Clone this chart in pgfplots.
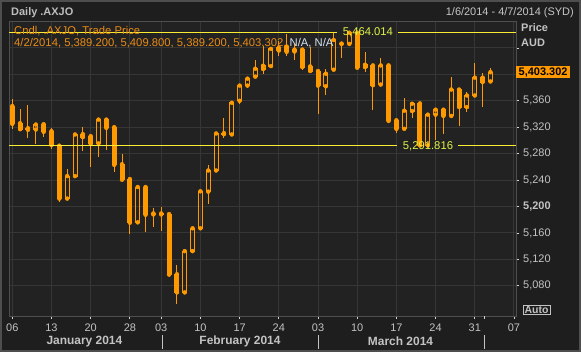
\documentclass[border=0pt]{standalone}
\usepackage{pgfplots}
\pgfplotsset{compat=1.18}
\usepackage{pgfplotstable}
\usepackage{fontspec}
\setmainfont{Liberation Sans}
\definecolor{outerbg}{RGB}{30,30,30}
\definecolor{plotbg}{RGB}{34,34,34}
\definecolor{gridc}{RGB}{54,54,54}
\definecolor{framec}{RGB}{78,78,78}
\definecolor{candle}{RGB}{255,153,0}
\definecolor{hdr}{RGB}{235,140,20}
\definecolor{lbl}{RGB}{195,195,195}
\definecolor{hiline}{RGB}{250,236,50}
\definecolor{hitext}{RGB}{225,245,70}
\definecolor{natext}{RGB}{215,228,245}

\pgfplotstableread{
i O H L C
0 5352 5362 5317 5325
1 5326 5347 5314 5317
2 5318.5 5353 5304 5316
3 5316.5 5324 5295 5324
4 5324.5 5325 5305 5313
5 5314 5318.5 5287 5293
6 5292 5292 5207 5212
7 5212 5257 5212 5246
8 5246 5309 5246 5309
9 5309.5 5320 5284 5305
10 5306.5 5308 5260 5295
11 5295.5 5332 5275 5331.5
12 5331.5 5332 5286 5319
13 5320 5321.5 5252.5 5263
14 5264 5279 5240 5240.5
15 5241.5 5241.5 5159 5175.5
16 5176 5229.5 5176 5229.5
17 5229.5 5229.5 5162 5187.5
18 5189.5 5197 5169.5 5188
19 5189.5 5199 5163.5 5188
20 5188.5 5189 5093 5097
21 5097.5 5111 5052 5070
22 5070 5132.5 5070 5132.5
23 5132.5 5169.5 5132.5 5167
24 5167 5223 5167 5223
25 5222.5 5262.5 5204 5254.5
26 5254.5 5310.5 5254.5 5310.5
27 5311 5333.5 5304 5309.5
28 5309 5357 5309 5357
29 5360 5383 5355 5383
30 5383 5396.5 5380 5393.5
31 5396.5 5421 5395 5408.5
32 5408 5443.5 5401 5413
33 5412.5 5440 5412 5438.5
34 5440 5450 5428 5436
35 5442 5461 5427 5434
36 5434.5 5446 5421 5437.5
37 5437.5 5438 5406 5411
38 5412 5442 5402 5405
39 5405 5405 5339.5 5383
40 5382 5408.5 5368 5401
41 5407 5462 5407 5452
42 5446.5 5447 5424 5446
43 5446 5463.5 5446 5463
44 5463 5464.014 5409.5 5410
45 5411 5434.5 5403.5 5414.5
46 5413.5 5414 5345.5 5383.5
47 5384.5 5425 5384.5 5413.5
48 5413.5 5413.5 5329 5329.5
49 5330.5 5332 5311.5 5317.5
50 5317.5 5363.5 5317.5 5345
51 5344.5 5358 5334 5355.5
52 5356 5356 5291.816 5292.5
53 5292.5 5339 5292.5 5339
54 5339 5347 5300 5346.5
55 5346.5 5347 5309.5 5337
56 5337 5395.5 5337 5377
57 5377 5377 5322 5350.5
58 5350.5 5373 5343 5368
59 5368 5416.5 5368 5395
60 5395 5401.5 5350.5 5388.3
61 5389.2 5409.8 5389.2 5403.302
}\candles

\pgfplotsset{candleaxis/.style={at={(9bp,36bp)}, anchor=south west,
  scale only axis, width=507bp, height=294bp,
  xmin=-0.42, xmax=64.26, ymin=5034.3, ymax=5479.2}}

\begin{document}
\begin{tikzpicture}[x=1bp,y=1bp]
\useasboundingbox (0,0) rectangle (581,352);
\fill[outerbg] (0,0) rectangle (581,352);
\draw[color=framec, line width=2bp] (1,1) rectangle (580,351);

% base axis: frame, grid, ticks, wicks
\begin{axis}[candleaxis,
  axis background/.style={fill=plotbg},
  axis line style={draw=framec, line width=1bp},
  grid=major,
  major grid style={draw=gridc, line width=1bp},
  tick align=outside,
  major tick length=3bp,
  tick style={draw=lbl!70, line width=0.8bp},
  xtick pos=bottom, ytick pos=right, yticklabel pos=right,
  xtick={0,5,10,15,19,24,29,34,39,44,49,54,59,64},
  xticklabels={06,13,20,28,03,10,17,24,03,10,17,24,31,07},
  extra x ticks={60.17}, extra x tick labels={},
  extra x tick style={grid=none},
  ytick={5080,5120,5160,5200,5240,5280,5320,5360,5400,5440},
  yticklabels={{5,080},{5,120},{5,160},\textbf{5,200},{5,240},{5,280},{5,320},{5,360},{},{}},
  tick label style={font=\fontsize{11}{13}\selectfont, text=lbl, inner sep=0pt},
  yticklabel style={anchor=west, xshift=4bp},
  xticklabel style={anchor=base, yshift=-12.5bp},
]
\addplot[only marks, mark=none, candle, forget plot,
  error bars/.cd, y dir=plus, y explicit, error mark=none,
  error bar style={candle, line width=1bp}]
  table[x=i, y expr={max(\thisrow{O},\thisrow{C})},
        y error plus expr={\thisrow{H}-max(\thisrow{O},\thisrow{C})}] {\candles};
\addplot[only marks, mark=none, candle, forget plot,
  error bars/.cd, y dir=minus, y explicit, error mark=none,
  error bar style={candle, line width=1bp}]
  table[x=i, y expr={min(\thisrow{O},\thisrow{C})},
        y error minus expr={min(\thisrow{O},\thisrow{C})-\thisrow{L}}] {\candles};
\end{axis}

% bodies
\begin{axis}[candleaxis, hide axis, ybar stacked, bar width=4bp]
\addplot[draw=none, fill=none] table[x=i, y expr={min(\thisrow{O},\thisrow{C})}] {\candles};
\addplot[draw=candle, fill=none, line width=1bp] table[x=i, y expr={max(\thisrow{C}-\thisrow{O},0)}] {\candles};
\addplot[draw=candle, fill=candle, line width=1bp] table[x=i, y expr={max(\thisrow{O}-\thisrow{C},0)}] {\candles};
\end{axis}

% reference lines and labels
\begin{axis}[candleaxis, hide axis, clip=false]
\addplot[hiline, line width=1bp] coordinates {(-0.42,5464.014) (41.46,5464.014)};
\addplot[hiline, line width=1bp] coordinates {(49.24,5464.014) (64.26,5464.014)};
\addplot[hiline, line width=1bp] coordinates {(-0.42,5291.816) (49.1,5291.816)};
\addplot[hiline, line width=1bp] coordinates {(56.9,5291.816) (64.26,5291.816)};
\node[text=hitext, font=\fontsize{11.3}{13}\selectfont, inner sep=0pt] at (axis cs:45.37,5464.014) {5,464.014};
\node[text=hitext, font=\fontsize{11.3}{13}\selectfont, inner sep=0pt] at (axis cs:53.03,5291.816) {5,291.816};
\node[fill=candle, text=black, font=\bfseries\fontsize{11}{13}\selectfont, anchor=west, inner xsep=2.5bp, inner ysep=1.5bp] at (axis cs:64.26,5403.302) {5,403.302};
\end{axis}

% header texts
\node[anchor=base west, text=lbl!110, font=\bfseries\fontsize{11}{13}\selectfont, inner sep=0pt] at (11,336.5) {Daily .AXJO};
\node[anchor=base east, text=lbl!95, font=\fontsize{11}{13}\selectfont, inner sep=0pt] at (574,336.5) {1/6/2014 - 4/7/2014 (SYD)};
\node[anchor=base west, text=lbl, font=\bfseries\fontsize{11}{13}\selectfont, inner sep=0pt] at (521,320.5) {Price};
\node[anchor=base west, text=lbl, font=\bfseries\fontsize{11}{13}\selectfont, inner sep=0pt] at (521,306) {AUD};
\node[anchor=base west, text=hdr, font=\fontsize{11.3}{13}\selectfont, inner sep=0pt] at (14,318) {Cndl, .AXJO, Trade Price};
\node[anchor=base west, font=\fontsize{11.3}{13}\selectfont, inner sep=0pt] at (14,305.5) {\color{hdr}4/2/2014, 5,389.200, 5,409.800, 5,389.200, 5,403.302, \color{natext}N/A, N/A};
\node[draw=lbl, line width=0.8bp, text=lbl, font=\bfseries\fontsize{10.5}{12}\selectfont, inner xsep=1.5bp, inner ysep=1bp] at (536.5,42) {Auto};

% month labels and separators
\node[text=lbl, font=\bfseries\fontsize{12}{14}\selectfont, inner sep=0pt] at (84.4,10.3) {January 2014};
\node[text=lbl, font=\bfseries\fontsize{12}{14}\selectfont, inner sep=0pt] at (240,10.3) {February 2014};
\node[text=lbl, font=\bfseries\fontsize{12}{14}\selectfont, inner sep=0pt] at (400.5,10.3) {March 2014};
\draw[lbl, line width=0.8bp] (162,3.4) -- (162,17.3);
\draw[lbl, line width=0.8bp] (318.6,3.4) -- (318.6,17.3);
\draw[lbl, line width=0.8bp] (484,3.4) -- (484,17.3);
\end{tikzpicture}
\end{document}
